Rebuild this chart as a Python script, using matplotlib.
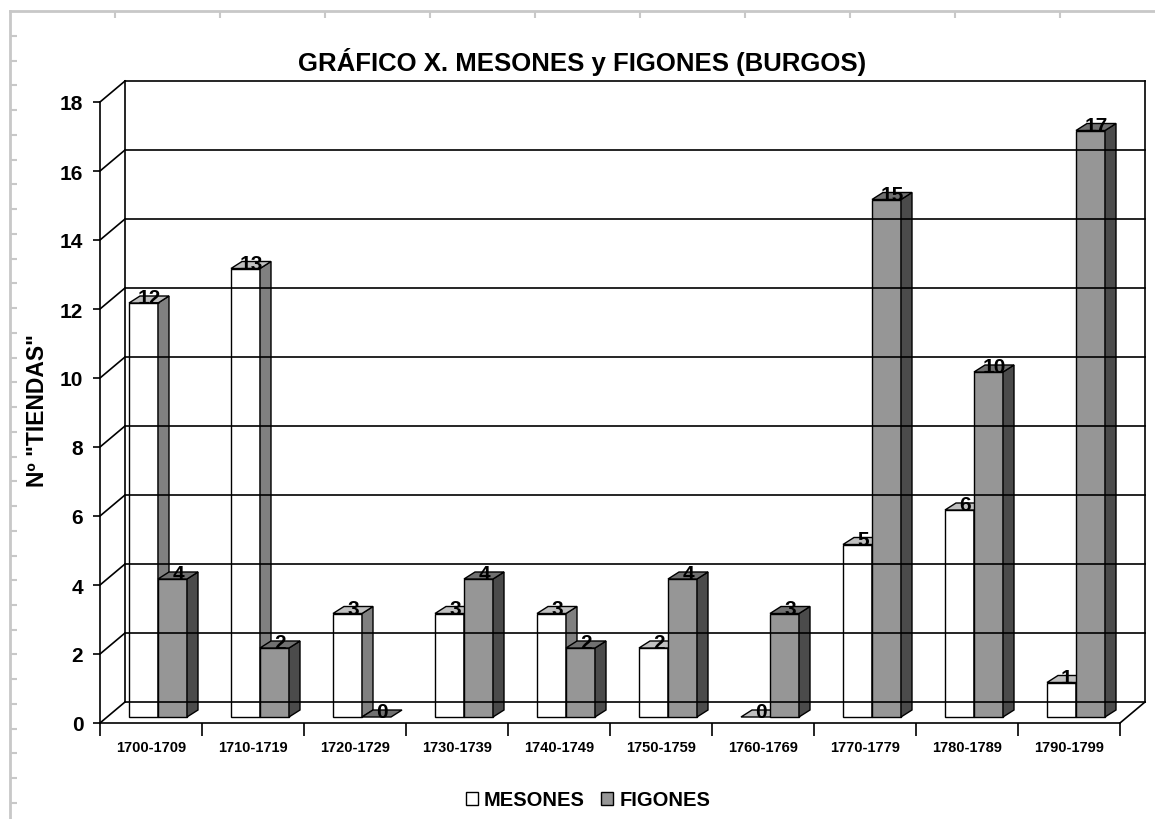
import numpy as np
import matplotlib
matplotlib.use("Agg")
import matplotlib.pyplot as plt
from matplotlib.patches import Polygon, Patch

plt.rcParams['font.family'] = ['Liberation Sans', 'DejaVu Sans']
plt.rcParams['font.weight'] = 'bold'

# data
periods = ["1700-1709", "1710-1719", "1720-1729", "1730-1739", "1740-1749",
           "1750-1759", "1760-1769", "1770-1779", "1780-1789", "1790-1799"]
mesones = [12, 13, 3, 3, 3, 2, 0, 5, 6, 1]
figones = [4, 2, 0, 4, 2, 4, 3, 15, 10, 17]
series_names = ["MESONES", "FIGONES"]
yticks = list(range(0, 19, 2))

# colours (front, side, top)
white_faces = ("#ffffff", "#808080", "#c0c0c0")
grey_faces = ("#969696", "#4b4b4b", "#707070")

W, H = 1155, 820
fig = plt.figure(figsize=(W / 100, H / 100), dpi=100)

# page frame of the spreadsheet (grey line with small ticks)
frame = fig.add_axes([10 / W, 0, 1 - 10 / W, 1 - 12 / H])
frame.set_xlim(10, W)
frame.set_ylim(H, 12)
frame.patch.set_visible(False)
for s in ("right", "bottom"):
    frame.spines[s].set_visible(False)
for s in ("left", "top"):
    frame.spines[s].set_color("#c8c8c8")
    frame.spines[s].set_linewidth(2)
frame.xaxis.tick_top()
frame.set_xticks(np.arange(115, W, 105))
frame.set_yticks(np.arange(37, H, 24.74))
frame.tick_params(direction="in", length=5, width=1.5, color="#c8c8c8",
                  labelleft=False, labeltop=False)

# main plot area: front plane of the 3d box
ax = fig.add_axes([100 / W, 1 - 724 / H, 1020 / W, 621 / H])
ax.set_xlim(0, 10)
ax.set_ylim(0, 18)
ax.patch.set_visible(False)
for s in ("top", "right", "bottom"):
    ax.spines[s].set_visible(False)
ax.spines["left"].set_linewidth(1.2)
ax.set_yticks(yticks)
ax.set_yticklabels([str(t) for t in yticks], fontsize=15, fontweight="bold")
ax.set_xticks(np.arange(0, 11))
ax.set_xticklabels([])
ax.set_xticks(np.arange(10) + 0.5, minor=True)
ax.set_xticklabels(periods, minor=True, fontsize=10.5, fontweight="bold")
ax.tick_params(axis="x", which="major", length=9, width=1.2)
ax.tick_params(axis="x", which="minor", length=0, pad=12)
ax.tick_params(axis="y", length=5, width=1.2, pad=7)

ux = 10 / 1020  # data units per pixel
uy = 18 / 621

# wall depth
wdx, wdy = 25 * ux, 21 * uy
lk = dict(color="black", lw=1.2, clip_on=False)
for v in yticks:
    ax.plot([wdx, 10 + wdx], [v + wdy, v + wdy], **lk)
    ax.plot([0, wdx], [v, v + wdy], **lk)
ax.plot([wdx, wdx], [wdy, 18 + wdy], **lk)
ax.plot([10 + wdx, 10 + wdx], [wdy, 18 + wdy], **lk)
ax.plot([0, 10], [0, 0], **lk)
ax.plot([10, 10 + wdx], [0, wdy], **lk)

# bars
bw = 29 * ux
ox, oy = 7 * ux, 6 * uy
ddx, ddy = 11 * ux, 7 * uy


def bar3d(x0, h, faces):
    front, side, top = faces
    x0 = x0 + ox
    y0 = oy
    pk = dict(edgecolor="black", lw=1.0, clip_on=False, joinstyle="miter")
    if h > 0:
        ax.add_patch(Polygon([(x0, y0), (x0 + bw, y0), (x0 + bw, y0 + h), (x0, y0 + h)],
                             facecolor=front, **pk))
        ax.add_patch(Polygon([(x0 + bw, y0), (x0 + bw + ddx, y0 + ddy),
                              (x0 + bw + ddx, y0 + h + ddy), (x0 + bw, y0 + h)],
                             facecolor=side, **pk))
    ax.add_patch(Polygon([(x0, y0 + h), (x0 + bw, y0 + h),
                          (x0 + bw + ddx, y0 + h + ddy), (x0 + ddx, y0 + h + ddy)],
                         facecolor=top, **pk))
    ax.text(x0 + bw / 2 + ddx / 2, y0 + h - 0.12, str(h), ha="center", va="bottom",
            fontsize=15, fontweight="bold", clip_on=False)


for i in range(len(periods)):
    c = i + 0.5
    bar3d(c - bw, mesones[i], white_faces)
    bar3d(c, figones[i], grey_faces)

ax.set_ylabel('Nº "TIENDAS"', fontsize=16.5, fontweight="bold")
ax.yaxis.set_label_coords(-51 / 1020, 0.505)

fig.text(582 / W, 1 - 62 / H, "GRÁFICO X. MESONES y FIGONES (BURGOS)",
         ha="center", va="center", fontsize=18.5, fontweight="bold")

handles = [Patch(facecolor=white_faces[0], edgecolor="black", lw=1.0),
           Patch(facecolor=grey_faces[0], edgecolor="black", lw=1.0)]
fig.legend(handles, series_names, loc="center", bbox_to_anchor=(588 / W, 1 - 801 / H),
           ncol=2, frameon=False, handlelength=0.6, handleheight=0.6,
           handletextpad=0.3, columnspacing=0.8,
           prop=dict(size=14.5, weight="bold"))

fig.savefig("out.png", dpi=100)
